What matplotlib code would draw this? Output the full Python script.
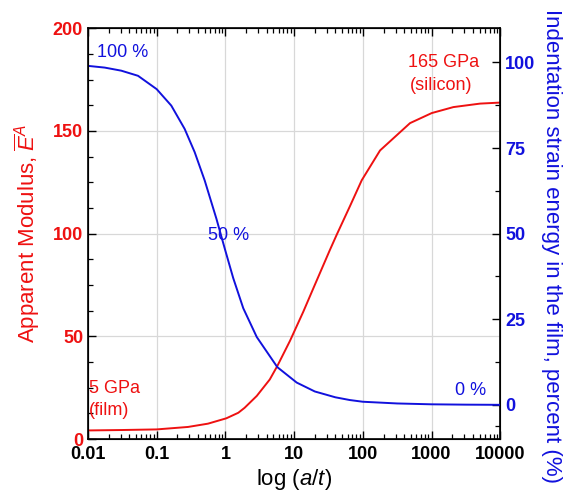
import matplotlib.pyplot as plt
import matplotlib.ticker as ticker
import numpy as np

plt.rcParams['font.family'] = ['Liberation Sans', 'DejaVu Sans']
plt.rcParams['mathtext.fontset'] = 'custom'
plt.rcParams['mathtext.rm'] = 'Liberation Sans'
plt.rcParams['mathtext.it'] = 'Liberation Sans:italic'

# apparent modulus (GPa) vs a/t
x_mod = [0.01, 0.0305, 0.1, 0.286, 0.558, 1.03, 1.54, 1.9, 2.86, 4.42, 5.7, 8.7,
         13.6, 19.1, 33.1, 41.7, 65.2, 96.4, 178, 486, 1007, 2075, 5080, 10000]
e_mod = [4.2, 4.4, 4.7, 5.9, 7.5, 10.1, 12.8, 15.2, 21.0, 29.0, 35.6, 47.8,
         62.0, 73.5, 92.0, 99.5, 113.5, 126.0, 140.5, 153.8, 158.7, 161.6, 163.3, 163.8]

# strain energy in film (%) vs a/t
x_en = [0.01, 0.0175, 0.0305, 0.0535, 0.1, 0.163, 0.255, 0.357, 0.5, 0.741, 0.986,
        1.30, 1.82, 2.86, 5.7, 10.9, 20, 39.8, 64.6, 100, 316, 1000, 3162, 10000]
p_en = [99.0, 98.5, 97.6, 96.1, 92.2, 87.4, 80.6, 73.8, 65.5, 54.3, 45.4,
        37.0, 28.2, 19.8, 11.0, 6.5, 3.9, 2.2, 1.4, 0.9, 0.4, 0.15, 0.05, 0.0]

red = '#ee1111'
blue = '#1111dd'

fig, ax1 = plt.subplots(figsize=(5.64, 4.95), dpi=100)
fig.subplots_adjust(left=0.156, right=0.887, top=0.943, bottom=0.113)
ax2 = ax1.twinx()

ax1.plot(x_mod, e_mod, color=red, lw=1.4)
ax2.plot(x_en, p_en, color=blue, lw=1.4)

ax1.set_xscale('log')
ax1.set_xlim(0.01, 10000)
ax1.set_ylim(0, 200)
ax2.set_ylim(-10, 110)

ax1.xaxis.set_major_locator(ticker.LogLocator(base=10, numticks=10))
ax1.xaxis.set_minor_locator(ticker.LogLocator(base=10, subs=np.arange(2, 10), numticks=20))
ax1.xaxis.set_major_formatter(ticker.FuncFormatter(lambda v, p: ('%g' % v)))
ax1.xaxis.set_minor_formatter(ticker.NullFormatter())

ax1.yaxis.set_major_locator(ticker.MultipleLocator(50))
ax1.yaxis.set_minor_locator(ticker.MultipleLocator(12.5))
ax2.yaxis.set_major_locator(ticker.FixedLocator([0, 25, 50, 75, 100]))
ax2.yaxis.set_minor_locator(ticker.FixedLocator([-6.25, 12.5, 37.5, 62.5, 87.5]))

ax1.grid(True, which='major', color='#d8d8d8', lw=0.9)
ax1.tick_params(which='both', direction='in', top=True, labelsize=13)
ax1.tick_params(axis='x', which='both', pad=5)
ax1.tick_params(which='major', length=6, width=1)
ax1.tick_params(which='minor', length=3.5, width=0.9)
ax2.tick_params(which='both', direction='in', labelsize=13, labelcolor=blue)
ax2.tick_params(which='major', length=6, width=1)
ax2.tick_params(which='minor', length=3.5, width=0.9)
ax1.tick_params(axis='y', labelcolor=red)

for lab in ax1.get_xticklabels() + ax1.get_yticklabels() + ax2.get_yticklabels():
    lab.set_fontweight('bold')

for sp in ax1.spines.values():
    sp.set_linewidth(1.2)

ax1.set_xlabel(r'log ($a/t$)', fontsize=16, labelpad=3)
ax1.set_ylabel(r'Apparent Modulus, $\overline{E}^A$', color=red, fontsize=16, labelpad=8)
ax2.set_ylabel('Indentation strain energy in the film, percent (%)', color=blue,
               fontsize=16, rotation=270, labelpad=16)
ax2.yaxis.set_label_coords(1.15, 0.47)

ax1.text(0.0135, 186, '100 %', color=blue, fontsize=13)
ax1.text(0.55, 97, '50 %', color=blue, fontsize=13)
ax1.text(2200, 21.5, '0 %', color=blue, fontsize=13)
ax1.text(1500, 181, '165 GPa', color=red, fontsize=13, ha='center')
ax1.text(1400, 170, '(silicon)', color=red, fontsize=13, ha='center')
ax1.text(0.0102, 22.5, '5 GPa', color=red, fontsize=13)
ax1.text(0.0102, 11.5, '(film)', color=red, fontsize=13)

fig.savefig('out.png', dpi=100)
